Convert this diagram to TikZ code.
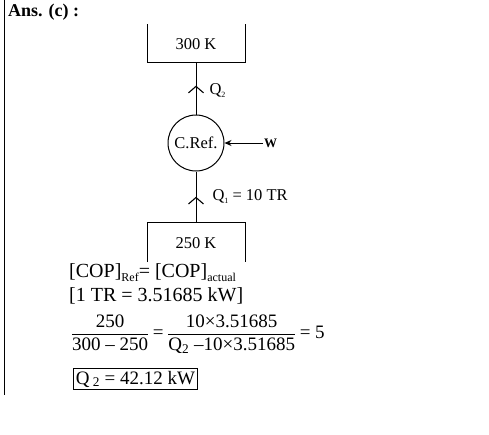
\documentclass[tikz,border=0pt]{standalone}
\usepackage{amsmath}
\usepackage{fontspec}
\setmainfont{Liberation Serif}
\usetikzlibrary{positioning,arrows.meta,decorations.markings}
\newcommand{\sbs}[1]{\raisebox{-0.45ex}{\fontsize{12}{13}\selectfont #1}}
\newcommand{\tsb}[1]{\raisebox{-0.4ex}{\fontsize{8}{9}\selectfont #1}}
\newcommand{\tx}[1]{\text{#1}}

\begin{document}
\begin{tikzpicture}[x=1pt, y=-1pt,
    lbl/.style={font=\fontsize{16.5}{19}\selectfont, inner sep=1pt},
    txt/.style={font=\fontsize{20}{23}\selectfont, inner sep=0pt, anchor=west},
    wall/.style={line width=1pt},
    flow/.style={line width=1pt, postaction={decorate},
      decoration={markings, mark=at position #1 with
        {\arrow{Straight Barb[length=6.5pt,width=15pt,line width=1.1pt]}}}},
    flow/.default=0.5,
    work/.style={-{Stealth[length=7pt,width=6pt]}, line width=1pt},
    ref/.style={draw, circle, line width=1pt, minimum size=56pt, inner sep=0pt,
      font=\fontsize{16.5}{19}\selectfont}
  ]
  \useasboundingbox (0,0) rectangle (489,434);
  \draw[line width=0.8pt] (4,0) -- (4,395);
  \node[txt, font=\fontsize{18}{21}\selectfont\bfseries] (ans) at (8,12) {Ans. (c) :};

  % ================= HOT RESERVOIR =================
  \draw[wall] (147,24) -- (147,62) -- (245,62) -- (245,24);
  \node[lbl] (hot) at (196,44) {300 K};
  \coordinate (hotb) at (196,62);

  % ================= REFRIGERATOR =================
  \node[ref] (cref) at (196,143) {C.Ref.};
  \node[lbl, anchor=west, font=\fontsize{13}{15}\selectfont\bfseries] (w) at (263,143) {W};
  \draw[work] (w.west) -- (cref.east);

  % ================= COLD RESERVOIR =================
  \draw[wall] (147,262) -- (147,222) -- (245,222) -- (245,262);
  \node[lbl] (cold) at (196,243) {250 K};
  \coordinate (coldt) at (196,222);

  % heat flows
  \draw[flow=0.55] (cref.north) -- (hotb)
    node[pos=0.45, right=12pt, lbl] (q2) {Q\tsb{2}};
  \draw[flow] (coldt) -- (cref.south)
    node[pos=0.5, right=15pt, lbl] (q1) {Q\tsb{1} = 10 TR};

  % ================= WORKING =================
  \node[txt] (cop) at (69,273) {[COP]\sbs{Ref}= [COP]\sbs{actual}};
  \node[txt] (tr) at (69,296) {[1 TR = 3.51685 kW]};
  \node[txt, font=\fontsize{19}{22}\selectfont] (eq) at (72,334)
    {\nulldelimiterspace=0pt$\dfrac{\tx{250}}{\tx{300 -- 250}}\tx{ = }\dfrac{\tx{10×3.51685}}{\tx{Q\textsubscript{2} --10×3.51685}}\tx{ = 5}$};
  \node[txt, draw, line width=0.8pt, inner sep=2.5pt, font=\fontsize{19}{22}\selectfont]
    (res) at (73,379) {Q\,\textsubscript{2} = 42.12 kW};
\end{tikzpicture}
\end{document}
